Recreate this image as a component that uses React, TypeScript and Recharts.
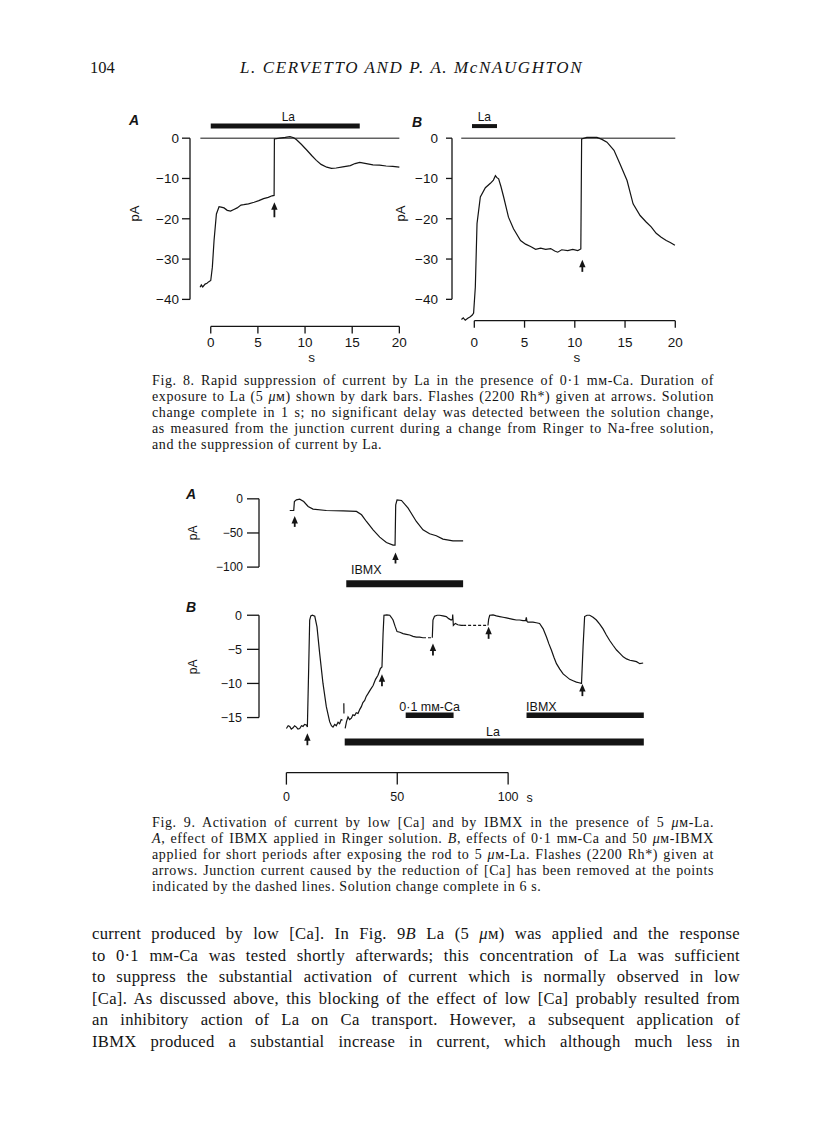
import React from 'react';
import { ComposedChart, Line, Scatter, XAxis, YAxis, ReferenceLine } from 'recharts';

type Pt = { t: number; v: number | null };
type Bar = { from: number; to: number; at: number };
type Note = { t: number; v: number; label: string };

// ---- Fig. 8A (time s, current pA)
const trace8A: Pt[] = [
  { t: -1.13, v: -37.0 }, { t: -1.0, v: -36.4 }, { t: -0.85, v: -36.9 }, { t: -0.6, v: -36.2 },
  { t: -0.4, v: -36.0 }, { t: -0.2, v: -35.6 }, { t: 0, v: -35.3 }, { t: 0.17, v: -32 },
  { t: 0.35, v: -25.4 }, { t: 0.6, v: -18.8 }, { t: 0.88, v: -17.0 }, { t: 1.1, v: -17.1 },
  { t: 1.41, v: -17.3 }, { t: 1.75, v: -17.9 }, { t: 2.1, v: -18.1 }, { t: 2.45, v: -17.7 },
  { t: 2.8, v: -17.3 }, { t: 3.2, v: -16.6 }, { t: 3.5, v: -16.5 }, { t: 4.0, v: -16.3 },
  { t: 4.6, v: -15.9 }, { t: 5.1, v: -15.5 }, { t: 5.6, v: -15.0 }, { t: 6.1, v: -14.7 },
  { t: 6.5, v: -14.3 }, { t: 6.72, v: -14.2 }, { t: 6.75, v: -0.2 }, { t: 7.3, v: 0 },
  { t: 7.9, v: 0.2 }, { t: 8.4, v: 0.4 }, { t: 8.8, v: 0.1 }, { t: 9.1, v: -0.4 },
  { t: 9.6, v: -1.5 }, { t: 10.2, v: -3.0 }, { t: 10.7, v: -4.3 }, { t: 11.2, v: -5.5 },
  { t: 11.7, v: -6.5 }, { t: 12.3, v: -7.2 }, { t: 12.8, v: -7.5 }, { t: 13.3, v: -7.4 },
  { t: 14.0, v: -7.1 }, { t: 14.8, v: -6.8 }, { t: 15.3, v: -6.3 }, { t: 15.8, v: -6.0 },
  { t: 16.5, v: -6.3 }, { t: 17.2, v: -6.6 }, { t: 17.9, v: -6.7 }, { t: 18.6, v: -6.9 },
  { t: 19.3, v: -7.0 }, { t: 20, v: -7.2 },
];
const arrows8A: Pt[] = [{ t: 6.75, v: -15.9 }];
const bars8A: Bar[] = [{ from: 0, to: 15.8, at: 3.0 }];
const notes8A: Note[] = [{ t: 8.23, v: 5.2, label: 'La' }];

// ---- Fig. 8B
const trace8B: Pt[] = [
  { t: -1.28, v: -45.0 }, { t: -1.1, v: -44.6 }, { t: -0.9, v: -45.2 }, { t: -0.65, v: -44.7 },
  { t: -0.4, v: -44.3 }, { t: -0.2, v: -43.9 }, { t: -0.07, v: -43.4 }, { t: 0.1, v: -37 },
  { t: 0.27, v: -21.2 }, { t: 0.6, v: -14.6 }, { t: 1.1, v: -12.3 }, { t: 1.6, v: -11.2 },
  { t: 1.9, v: -10.4 }, { t: 2.1, v: -9.3 }, { t: 2.25, v: -9.8 }, { t: 2.42, v: -10.1 },
  { t: 2.65, v: -12.0 }, { t: 2.92, v: -14.6 }, { t: 3.4, v: -19.6 }, { t: 3.9, v: -22.5 },
  { t: 4.6, v: -25.4 }, { t: 5.1, v: -26.3 }, { t: 5.6, v: -26.9 }, { t: 6.1, v: -27.6 },
  { t: 6.6, v: -27.3 }, { t: 7.1, v: -27.6 }, { t: 7.6, v: -27.4 }, { t: 8.0, v: -28.0 },
  { t: 8.3, v: -28.3 }, { t: 8.7, v: -27.7 }, { t: 9.3, v: -27.9 }, { t: 9.8, v: -27.6 },
  { t: 10.3, v: -27.9 }, { t: 10.6, v: -27.5 }, { t: 10.68, v: -0.2 }, { t: 11.2, v: 0.2 },
  { t: 12.2, v: 0.2 }, { t: 12.7, v: -0.3 }, { t: 13.2, v: -1.0 }, { t: 13.9, v: -3.0 },
  { t: 14.5, v: -6.4 }, { t: 15.2, v: -10.5 }, { t: 15.8, v: -16.3 }, { t: 16.5, v: -19.2 },
  { t: 17.1, v: -20.8 }, { t: 17.6, v: -22.0 }, { t: 18.1, v: -23.6 }, { t: 18.6, v: -24.6 },
  { t: 19.1, v: -25.4 }, { t: 19.5, v: -25.9 }, { t: 19.96, v: -26.6 },
];
const arrows8B: Pt[] = [{ t: 10.75, v: -30.2 }];
const bars8B: Bar[] = [{ from: -0.23, to: 2.26, at: 3.0 }];
const notes8B: Note[] = [{ t: 1.0, v: 5.2, label: 'La' }];

const ticks8Y = [0, -10, -20, -30, -40];
const ticks8X = [0, 5, 10, 15, 20];

// ---- Fig. 9A
const trace9A: Pt[] = [
  { t: 1.5, v: -17.1 }, { t: 3.3, v: -17.1 }, { t: 3.6, v: -3.9 }, { t: 4.5, v: -1.5 },
  { t: 6.0, v: -0.5 }, { t: 7.8, v: -3.9 }, { t: 9.8, v: -11.2 }, { t: 12.0, v: -15.1 },
  { t: 18.0, v: -17.1 }, { t: 25.6, v: -17.6 }, { t: 31.6, v: -18.5 }, { t: 33.9, v: -23.4 },
  { t: 36.1, v: -33.2 }, { t: 39.1, v: -45.4 }, { t: 42.1, v: -56.1 }, { t: 45.1, v: -63.9 },
  { t: 48.1, v: -67.8 }, { t: 49.0, v: -67.8 }, { t: 49.3, v: -8.8 }, { t: 49.9, v: -1.5 },
  { t: 51.9, v: -2.4 }, { t: 54.9, v: -13.7 }, { t: 58.6, v: -33.2 }, { t: 61.6, v: -45.4 },
  { t: 64.6, v: -51.2 }, { t: 67.6, v: -54.1 }, { t: 70.6, v: -59.0 }, { t: 75.1, v: -61.5 },
  { t: 79.7, v: -61.5 },
];
const arrows9A: Pt[] = [{ t: 3.75, v: -25 }, { t: 49.2, v: -78.6 }];
const bars9A: Bar[] = [{ from: 27.0, to: 79.7, at: -124.4 }];
const notes9A: Note[] = [{ t: 36, v: -103.9, label: 'IBMX' }];
const ticks9AY = [0, -50, -100];

// ---- Fig. 9B
const trace9B: Pt[] = [
  { t: 0, v: -16.6 }, { t: 0.8, v: -16.2 }, { t: 1.5, v: -16.3 }, { t: 2.2, v: -16.7 },
  { t: 3.0, v: -16.5 }, { t: 3.7, v: -16.2 }, { t: 4.5, v: -16.4 }, { t: 5.2, v: -16.7 },
  { t: 6.0, v: -16.6 }, { t: 6.8, v: -16.2 }, { t: 7.5, v: -16.3 }, { t: 8.2, v: -16.0 },
  { t: 9.0, v: -16.1 }, { t: 9.46, v: -16.4 }, { t: 10.06, v: -7.6 }, { t: 10.5, v: -0.7 },
  { t: 11.0, v: -0.1 }, { t: 11.7, v: 0 }, { t: 12.8, v: -0.15 }, { t: 13.8, v: -1.7 },
  { t: 15.0, v: -5.6 }, { t: 16.5, v: -10.0 }, { t: 18.0, v: -13.4 }, { t: 19.5, v: -15.6 },
  { t: 20.3, v: -16.2 }, { t: 21.0, v: -16.4 }, { t: 21.8, v: -16.0 }, { t: 22.5, v: -16.2 },
  { t: 23.3, v: -15.7 }, { t: 24.0, v: -15.9 }, { t: 24.7, v: -15.3 }, { t: 25.3, v: -15.4 },
  { t: 25.6, v: null },
  { t: 25.9, v: -12.9 }, { t: 25.95, v: -14.4 },
  { t: 26.2, v: null },
  { t: 26.5, v: -16.6 }, { t: 27.1, v: -15.6 }, { t: 27.8, v: -14.9 }, { t: 28.5, v: -15.3 },
  { t: 29.3, v: -15.1 }, { t: 30.0, v: -14.6 }, { t: 30.8, v: -14.7 }, { t: 31.5, v: -14.3 },
  { t: 32.3, v: -14.4 }, { t: 33.1, v: -13.8 }, { t: 33.8, v: -13.4 }, { t: 34.5, v: -12.8 },
  { t: 35.3, v: -12.5 }, { t: 36.0, v: -11.9 }, { t: 36.8, v: -11.5 }, { t: 37.9, v: -10.9 },
  { t: 39.1, v: -10.3 }, { t: 40.2, v: -9.4 }, { t: 41.3, v: -8.8 }, { t: 42.4, v: -7.8 },
  { t: 43.1, v: -7.6 }, { t: 43.6, v: -2.7 }, { t: 44.0, v: 0 }, { t: 45.3, v: 0.05 },
  { t: 46.6, v: 0 }, { t: 47.3, v: -0.3 }, { t: 48.1, v: -0.7 }, { t: 49.0, v: -1.6 },
  { t: 49.9, v: -2.4 }, { t: 51.2, v: -2.5 }, { t: 52.6, v: -2.7 }, { t: 54.1, v: -2.8 },
  { t: 55.6, v: -2.9 }, { t: 57.1, v: -3.1 }, { t: 58.6, v: -3.2 }, { t: 60.1, v: -3.2 },
  { t: 61.6, v: -3.3 },
  { t: 62.0, v: null },
  { t: 65.8, v: -3.3 }, { t: 66.1, v: -0.7 }, { t: 66.8, v: -0.15 }, { t: 68.0, v: 0 },
  { t: 69.1, v: 0 }, { t: 70.6, v: -0.1 }, { t: 72.1, v: -0.2 }, { t: 73.2, v: -0.5 },
  { t: 74.3, v: -0.7 }, { t: 74.9, v: -0.6 }, { t: 75.0, v: 0.1 }, { t: 75.3, v: -1.5 },
  { t: 76.2, v: -1.2 }, { t: 77.3, v: -1.4 }, { t: 78.9, v: -1.5 }, { t: 79.7, v: -1.5 },
  { t: 80.0, v: null },
  { t: 90.9, v: -1.5 }, { t: 91.2, v: -0.6 }, { t: 91.7, v: 0 }, { t: 93.2, v: 0.05 },
  { t: 94.7, v: -0.1 }, { t: 96.2, v: -0.2 }, { t: 97.7, v: -0.3 }, { t: 99.2, v: -0.4 },
  { t: 100.7, v: -0.5 }, { t: 102.2, v: -0.6 }, { t: 103.7, v: -0.7 }, { t: 105.2, v: -0.7 },
  { t: 106.7, v: -0.8 }, { t: 107.9, v: -0.8 }, { t: 108.2, v: -0.3 }, { t: 108.5, v: -0.9 },
  { t: 108.9, v: -1.0 }, { t: 111.2, v: -1.0 }, { t: 112.7, v: -1.1 }, { t: 114.2, v: -1.2 },
  { t: 115.8, v: -2.0 }, { t: 117.3, v: -3.2 }, { t: 118.4, v: -4.2 }, { t: 119.5, v: -5.1 },
  { t: 120.7, v: -6.2 }, { t: 121.8, v: -7.1 }, { t: 123.3, v: -7.9 }, { t: 124.8, v: -8.6 },
  { t: 126.3, v: -9.0 }, { t: 127.8, v: -9.4 }, { t: 129.3, v: -9.6 }, { t: 130.8, v: -9.8 },
  { t: 132.0, v: -9.9 }, { t: 133.1, v: -10.0 }, { t: 133.8, v: -4.6 }, { t: 134.5, v: -0.2 },
  { t: 135.6, v: 0 }, { t: 136.8, v: 0 }, { t: 138.3, v: -0.3 }, { t: 139.8, v: -0.7 },
  { t: 141.3, v: -1.3 }, { t: 142.8, v: -2.0 }, { t: 144.3, v: -2.9 }, { t: 145.8, v: -3.7 },
  { t: 147.3, v: -4.4 }, { t: 148.9, v: -5.1 }, { t: 150.4, v: -5.6 }, { t: 151.9, v: -6.1 },
  { t: 153.4, v: -6.4 }, { t: 154.9, v: -6.6 }, { t: 156.4, v: -6.7 }, { t: 157.9, v: -6.8 },
  { t: 159.4, v: -7.1 }, { t: 160.9, v: -7.0 },
];
const dashes9B: Pt[] = [
  { t: 61.6, v: -3.3 }, { t: 65.8, v: -3.3 }, { t: 70, v: null },
  { t: 79.7, v: -1.5 }, { t: 90.9, v: -1.5 },
];
const arrows9B: Pt[] = [
  { t: 9.46, v: -17.3 }, { t: 43.1, v: -8.65 }, { t: 66.1, v: -4.15 },
  { t: 91.2, v: -1.7 }, { t: 133.5, v: -10.1 },
];
const bars9B: Bar[] = [
  { from: 53.8, to: 75.4, at: -14.66 },
  { from: 108.3, to: 161.2, at: -14.66 },
  { from: 26.3, to: 161.2, at: -18.58 },
];
const notes9B: Note[] = [
  { t: 64.6, v: -13.4, label: '0·1 mм-Ca' },
  { t: 115, v: -13.4, label: 'IBMX' },
  { t: 93.2, v: -17.1, label: 'La' },
];
const ticks9BY = [0, -5, -10, -15];
const ticks9X = [0, 50, 100];

// ---- page text
const caption8 = [
  'Fig. 8. Rapid suppression of current by La in the presence of 0·1 mм-Ca. Duration of',
  'exposure to La (5 _μ_м) shown by dark bars. Flashes (2200 Rh*) given at arrows. Solution',
  'change complete in 1 s; no significant delay was detected between the solution change,',
  'as measured from the junction current during a change from Ringer to Na-free solution,',
  'and the suppression of current by La.',
];
const caption9 = [
  'Fig. 9. Activation of current by low [Ca] and by IBMX in the presence of 5 _μ_м-La.',
  '_A_, effect of IBMX applied in Ringer solution. _B_, effects of 0·1 mм-Ca and 50 _μ_м-IBMX',
  'applied for short periods after exposing the rod to 5 _μ_м-La. Flashes (2200 Rh*) given at',
  'arrows. Junction current caused by the reduction of [Ca] has been removed at the points',
  'indicated by the dashed lines. Solution change complete in 6 s.',
];
const bodyText = [
  'current produced by low [Ca]. In Fig. 9_B_ La (5 _μ_м) was applied and the response',
  'to 0·1 mм-Ca was tested shortly afterwards; this concentration of La was sufficient',
  'to suppress the substantial activation of current which is normally observed in low',
  '[Ca]. As discussed above, this blocking of the effect of low [Ca] probably resulted from',
  'an inhibitory action of La on Ca transport. However, a subsequent application of',
  'IBMX produced a substantial increase in current, which although much less in',
];

const INK = '#141414';
const SANS = '"Liberation Sans", Arial, Helvetica, sans-serif';
const SERIF = '"Liberation Serif", "Times New Roman", serif';

const minus = (v: number) => (v < 0 ? `\u2212${-v}` : `${v}`);

function arrowShape(len: number) {
  return (p: any) => {
    const { cx, cy } = p;
    return (
      <g>
        <line x1={cx} y1={cy + 5} x2={cx} y2={cy + len} stroke={INK} strokeWidth={1.8} />
        <path d={`M${cx},${cy} L${cx - 3.2},${cy + 7.5} L${cx + 3.2},${cy + 7.5} Z`} fill={INK} />
      </g>
    );
  };
}

function noteShape(size: number) {
  return (p: any) => (
    <text x={p.cx} y={p.cy} textAnchor="middle" dominantBaseline="central" fontFamily={SANS} fontSize={size} fill={INK}>
      {p.payload.label}
    </text>
  );
}

function axisTitle(text: string, x: number, y: number, size: number, rotate = 0) {
  return () => (
    <text
      x={x}
      y={y}
      textAnchor="middle"
      dominantBaseline="central"
      fontFamily={SANS}
      fontSize={size}
      fill={INK}
      transform={rotate ? `rotate(${rotate} ${x} ${y})` : undefined}
    >
      {text}
    </text>
  );
}

interface PanelProps {
  left: number; top: number; width: number; height: number;
  margin: { top: number; right: number; bottom: number; left: number };
  xDomain: [number, number]; yDomain: [number, number];
  yAxisWidth: number; yTicks: number[]; yTickSize: number; yTickMargin: number; yFont: number;
  yAxisSpan: [number, number];
  xTicks?: number[]; xAxisHeight?: number; xTickSize?: number; xTickMargin?: number; xFont?: number;
  xAxisSpan?: [number, number];
  zeroLine?: [number, number];
  trace: Pt[]; dashes?: Pt[];
  bars: Bar[]; barWidths: number[];
  arrows: Pt[]; arrowLen: number;
  notes: Note[]; noteFont: number;
  pA: [number, number]; pAFont: number;
  sLabel?: [number, number];
}

function TracePanel(p: PanelProps) {
  const x0 = p.xDomain[0];
  const y0 = p.yDomain[0];
  return (
    <div style={{ position: 'absolute', left: p.left, top: p.top }}>
      <ComposedChart width={p.width} height={p.height} margin={p.margin}>
        <XAxis
          type="number"
          dataKey="t"
          domain={p.xDomain}
          ticks={p.xTicks}
          hide={!p.xTicks}
          interval={0}
          height={p.xAxisHeight}
          axisLine={false}
          tickSize={p.xTickSize}
          tickMargin={p.xTickMargin}
          tickLine={{ stroke: INK, strokeWidth: 1.3 }}
          tick={{ fill: INK, fontSize: p.xFont, fontFamily: SANS }}
          label={p.sLabel ? axisTitle('s', p.sLabel[0], p.sLabel[1], p.xFont || 13) : undefined}
        />
        <YAxis
          type="number"
          dataKey="v"
          domain={p.yDomain}
          ticks={p.yTicks}
          interval={0}
          width={p.yAxisWidth}
          axisLine={false}
          tickSize={p.yTickSize}
          tickMargin={p.yTickMargin}
          tickLine={{ stroke: INK, strokeWidth: 1.3 }}
          tick={{ fill: INK, fontSize: p.yFont, fontFamily: SANS }}
          tickFormatter={minus}
          label={axisTitle('pA', p.pA[0], p.pA[1], p.pAFont, -90)}
        />
        {/* axis lines, only over the labelled span */}
        <ReferenceLine
          ifOverflow="visible"
          segment={[{ x: x0, y: p.yAxisSpan[0] }, { x: x0, y: p.yAxisSpan[1] }]}
          stroke={INK}
          strokeWidth={1.3}
        />
        {p.xAxisSpan && (
          <ReferenceLine
            ifOverflow="visible"
            segment={[{ x: p.xAxisSpan[0], y: y0 }, { x: p.xAxisSpan[1], y: y0 }]}
            stroke={INK}
            strokeWidth={1.3}
          />
        )}
        {p.zeroLine && (
          <ReferenceLine
            ifOverflow="visible"
            segment={[{ x: p.zeroLine[0], y: 0 }, { x: p.zeroLine[1], y: 0 }]}
            stroke={INK}
            strokeWidth={1}
          />
        )}
        {p.bars.map((b, i) => (
          <ReferenceLine
            key={i}
            ifOverflow="visible"
            segment={[{ x: b.from, y: b.at }, { x: b.to, y: b.at }]}
            stroke={INK}
            strokeWidth={p.barWidths[i]}
          />
        ))}
        <Line data={p.trace} dataKey="v" type="linear" stroke={INK} strokeWidth={1.2} dot={false} connectNulls={false} isAnimationActive={false} />
        {p.dashes && (
          <Line data={p.dashes} dataKey="v" type="linear" stroke={INK} strokeWidth={1.2} strokeDasharray="3 2" dot={false} connectNulls={false} isAnimationActive={false} />
        )}
        <Scatter data={p.arrows} dataKey="v" shape={arrowShape(p.arrowLen)} isAnimationActive={false} />
        <Scatter data={p.notes} dataKey="v" shape={noteShape(p.noteFont)} isAnimationActive={false} />
      </ComposedChart>
    </div>
  );
}

function rich(s: string) {
  return s.split('_').map((part, i) => (i % 2 ? <i key={i}>{part}</i> : <React.Fragment key={i}>{part}</React.Fragment>));
}

function TextBlock(props: { lines: string[]; left: number; top: number; width: number; lineHeight: number; fontSize: number; spacing: number; justifyLast: boolean }) {
  const { lines, left, top, width, lineHeight, fontSize, spacing, justifyLast } = props;
  return (
    <div style={{ position: 'absolute', left, top, width, fontSize, letterSpacing: spacing, lineHeight: `${lineHeight}px` }}>
      {lines.map((l, i) => (
        <div
          key={i}
          style={{
            height: lineHeight,
            whiteSpace: 'nowrap',
            textAlign: 'justify',
            textAlignLast: i < lines.length - 1 || justifyLast ? 'justify' : 'left',
          }}
        >
          {rich(l)}
        </div>
      ))}
    </div>
  );
}

function PanelLetter({ x, y, text }: { x: number; y: number; text: string }) {
  return (
    <div style={{ position: 'absolute', left: x - 6, top: y - 8, fontFamily: SANS, fontStyle: 'italic', fontWeight: 'bold', fontSize: 14, lineHeight: '16px' }}>
      {text}
    </div>
  );
}

export default function App() {
  return (
    <div style={{ position: 'absolute', left: 0, top: 0, width: 816, height: 1140, background: '#fff', overflow: 'hidden', fontFamily: SERIF, color: INK }}>
      {/* running head */}
      <div style={{ position: 'absolute', left: 90, top: 58, fontSize: 16.5, lineHeight: '20px' }}>104</div>
      <div style={{ position: 'absolute', left: 240, top: 57, fontSize: 17, lineHeight: '22px', fontStyle: 'italic', letterSpacing: 1.6, whiteSpace: 'nowrap' }}>
        L. CERVETTO AND P. A. McNAUGHTON
      </div>

      {/* Fig. 8 */}
      <PanelLetter x={135} y={120} text="A" />
      <PanelLetter x={418} y={122} text="B" />
      <TracePanel
        left={120} top={89.5} width={292.3} height={285.4}
        margin={{ top: 24, right: 12, bottom: 4, left: 0 }}
        xDomain={[-2.2, 20.1]} yDomain={[-46.7, 6]}
        yAxisWidth={70} yTicks={ticks8Y} yTickSize={8} yTickMargin={3} yFont={13.5} yAxisSpan={[0, -40]}
        xTicks={ticks8X} xAxisHeight={45} xTickSize={7} xTickMargin={4} xFont={13.5} xAxisSpan={[0, 20]}
        zeroLine={[-1.1, 20]}
        trace={trace8A}
        bars={bars8A} barWidths={[5]}
        arrows={arrows8A} arrowLen={15}
        notes={notes8A} noteFont={12}
        pA={[15, 123.5]} pAFont={13}
        sLabel={[191.7, 267.2]}
      />
      <TracePanel
        left={386.7} top={89.5} width={300.8} height={284.7}
        margin={{ top: 24, right: 12, bottom: 4, left: 0 }}
        xDomain={[-2.22, 20.05]} yDomain={[-45.3, 6]}
        yAxisWidth={65} yTicks={ticks8Y} yTickSize={6} yTickMargin={8} yFont={13.5} yAxisSpan={[0, -40]}
        xTicks={ticks8X} xAxisHeight={50} xTickSize={7} xTickMargin={10} xFont={13.5} xAxisSpan={[0, 20]}
        zeroLine={[-1.3, 20]}
        trace={trace8B}
        bars={bars8B} barWidths={[4]}
        arrows={arrows8B} arrowLen={12}
        notes={notes8B} noteFont={12}
        pA={[13.3, 123.5]} pAFont={13}
        sLabel={[190, 267.2]}
      />
      <TextBlock lines={caption8} left={152} top={373} width={562} lineHeight={16} fontSize={14} spacing={0.6} justifyLast={false} />

      {/* Fig. 9 */}
      <PanelLetter x={192} y={494} text="A" />
      <PanelLetter x={192} y={607} text="B" />
      <TracePanel
        left={184.3} top={484.2} width={471.6} height={111.6}
        margin={{ top: 8, right: 10, bottom: 8, left: 0 }}
        xDomain={[-12.36, 162]} yDomain={[-130, 10]}
        yAxisWidth={75} yTicks={ticks9AY} yTickSize={12} yTickMargin={4} yFont={12} yAxisSpan={[0, -100]}
        trace={trace9A}
        bars={bars9A} barWidths={[7]}
        arrows={arrows9A} arrowLen={11}
        notes={notes9A} noteFont={12.5}
        pA={[9, 48.8]} pAFont={12}
      />
      <TracePanel
        left={184.3} top={596.8} width={471.6} height={219.6}
        margin={{ top: 8, right: 10, bottom: 4, left: 0 }}
        xDomain={[-12.36, 162]} yDomain={[-23.07, 1.5]}
        yAxisWidth={75} yTicks={ticks9BY} yTickSize={12} yTickMargin={5} yFont={12.5} yAxisSpan={[0, -15]}
        xTicks={ticks9X} xAxisHeight={40} xTickSize={12} xTickMargin={8} xFont={12.5} xAxisSpan={[0, 100]}
        trace={trace9B} dashes={dashes9B}
        bars={bars9B} barWidths={[5.5, 5.5, 7]}
        arrows={arrows9B} arrowLen={12}
        notes={notes9B} noteFont={12.5}
        pA={[9, 69.9]} pAFont={12}
        sLabel={[345.7, 201.2]}
      />
      <TextBlock lines={caption9} left={152} top={815} width={562} lineHeight={16} fontSize={14} spacing={0.6} justifyLast={false} />

      {/* body text */}
      <TextBlock lines={bodyText} left={92} top={923} width={648} lineHeight={21.5} fontSize={16.6} spacing={0.3} justifyLast={true} />
    </div>
  );
}
